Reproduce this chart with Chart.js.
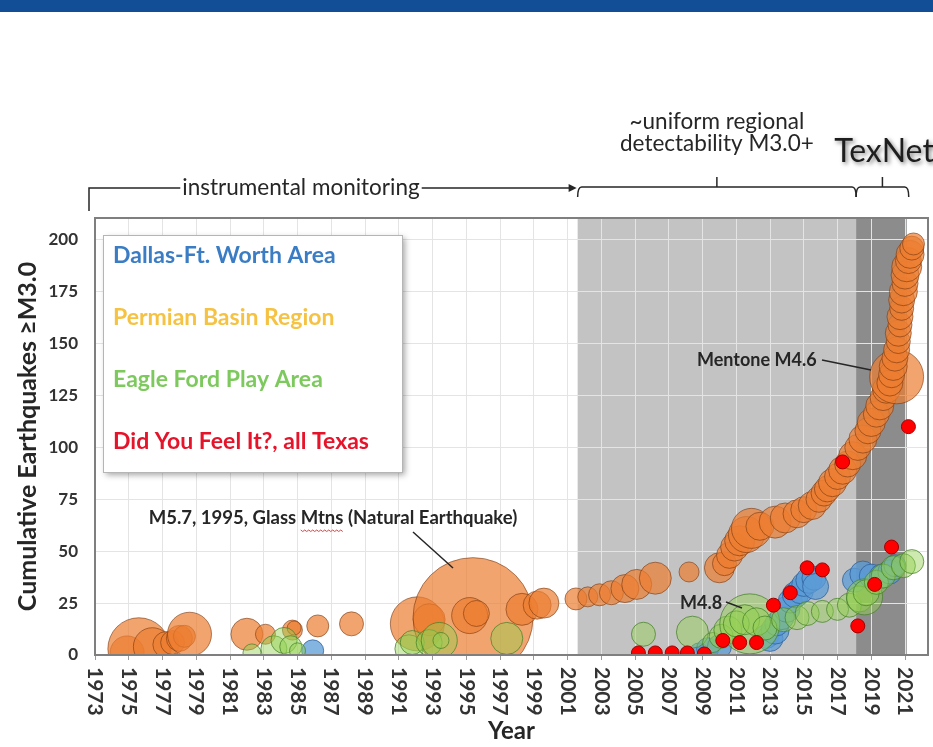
<!DOCTYPE html>
<html>
<head>
<meta charset="utf-8">
<title>Cumulative Texas earthquakes</title>
<script src="https://cdn.jsdelivr.net/npm/chart.js@4.4.1/dist/chart.umd.min.js"></script>
<style>
  html, body { margin: 0; padding: 0; background: #fff; }
  #wrap { position: relative; width: 933px; height: 747px; }
  #bar { position: absolute; left: 0; top: 0; width: 933px; height: 12px; background: #114e96; }
  canvas { position: absolute; left: 0; top: 0; }
</style>
</head>
<body>
<div id="wrap">
  <canvas id="quakeChart" width="933" height="747"></canvas>
  <div id="bar"></div>
</div>
<script>
// [year, cumulative count, bubble size]
var dallasPoints = [
    [1985.9, 2, 11],
    [2008.8, 1, 10], [2009.3, 3, 11], [2010.0, 4, 12],
    [2012.8, 9, 12], [2013.0, 8, 13], [2013.3, 12, 14], [2013.4, 15, 12],
    [2013.7, 18, 12], [2014.0, 22, 13], [2014.2, 26, 12], [2014.5, 29, 13],
    [2014.8, 31, 13], [2015.0, 34, 12], [2015.3, 36, 13], [2015.6, 37, 12],
    [2015.7, 33, 13],
    [2018.0, 36, 12], [2018.5, 39, 13], [2019.0, 38, 12], [2019.6, 38, 12],
    [2020.1, 40, 12], [2020.4, 43, 11]
];

var permianPoints = [
    [1974.9, 1, 17], [1975.6, 3, 31], [1976.4, 4, 19], [1977.2, 5, 13],
    [1977.6, 6, 12], [1978.0, 8, 13], [1978.3, 9, 11], [1978.6, 10, 22],
    [1982.0, 10, 16], [1983.1, 10, 10], [1984.7, 12, 10], [1984.8, 13, 7],
    [1986.2, 14, 11], [1988.2, 15, 12],
    [1992.1, 15, 27], [1992.8, 17, 16], [1995.4, 18, 60], [1995.2, 19, 18],
    [1995.6, 20, 13], [1998.3, 22, 16], [1999.2, 24, 14], [1999.6, 25, 15],
    [2001.5, 27, 11], [2002.2, 28, 10], [2002.9, 29, 11], [2003.6, 30, 12],
    [2004.4, 32, 14], [2005.1, 34, 15], [2006.2, 37, 16], [2008.2, 40, 10],
    [2010.0, 42, 15], [2010.3, 44, 12], [2010.6, 48, 13], [2010.9, 52, 14],
    [2011.2, 55, 15], [2011.6, 58, 18], [2011.9, 61, 20], [2012.4, 62, 14],
    [2013.3, 64, 16], [2013.9, 66, 15], [2014.6, 68, 14], [2015.0, 70, 13],
    [2015.5, 72, 14], [2015.9, 75, 13], [2016.2, 78, 13], [2016.4, 80, 13],
    [2016.7, 83, 14], [2017.0, 86, 13], [2017.3, 89, 14], [2017.6, 92, 13],
    [2017.9, 96, 14], [2018.2, 100, 13], [2018.5, 104, 14], [2018.8, 108, 13],
    [2019.0, 112, 14], [2019.3, 116, 13], [2019.5, 120, 14], [2019.7, 124, 13],
    [2019.9, 128, 14], [2020.5, 134, 27], [2020.1, 131, 13], [2020.2, 135, 13],
    [2020.3, 139, 14], [2020.4, 143, 13], [2020.5, 147, 13], [2020.6, 151, 12],
    [2020.6, 155, 13], [2020.7, 159, 12], [2020.7, 163, 13], [2020.8, 167, 12],
    [2020.8, 171, 13], [2020.9, 175, 14], [2021.0, 179, 13], [2021.0, 183, 14],
    [2021.1, 187, 15], [2021.2, 190, 13], [2021.3, 193, 14], [2021.4, 196, 12],
    [2021.5, 198, 11]
];

var eagleFordPoints = [
    [1982.3, 1, 9], [1983.6, 3, 13], [1984.2, 7, 13], [1984.6, 4, 11], [1985.0, 2, 8],
    [1991.6, 3, 14], [1991.8, 6, 12], [1992.8, 6, 13], [1993.4, 7, 18], [1993.5, 7, 8],
    [1997.4, 8, 16],
    [2005.5, 10, 12], [2008.4, 11, 16], [2009.6, 6, 10], [2010.1, 9, 12],
    [2010.5, 12, 14], [2011.8, 15, 30], [2011.0, 15, 13], [2011.5, 17, 15],
    [2012.2, 16, 14], [2012.7, 13, 12],
    [2013.8, 17, 12], [2014.6, 18, 12], [2015.2, 20, 12], [2016.1, 21, 11],
    [2017.0, 22, 11], [2017.7, 24, 12], [2018.3, 27, 13], [2018.6, 28, 18],
    [2018.7, 30, 13], [2019.3, 35, 12], [2019.7, 38, 12], [2020.3, 42, 12],
    [2020.9, 43, 12], [2021.4, 45, 12]
];

var dyfiPoints = [
    [2005.2, 1, 7], [2006.2, 1, 7], [2007.2, 1, 7], [2008.1, 1, 7], [2009.1, 0.5, 7],
    [2010.2, 7, 7], [2011.2, 6, 7], [2012.2, 6, 7], [2013.2, 24, 7], [2014.2, 30, 7],
    [2015.2, 42, 7], [2016.1, 41, 7], [2017.3, 93, 7], [2018.2, 14, 7],
    [2019.2, 34, 7], [2020.2, 52, 7], [2021.2, 110, 7]
];

var seriesNames = ['Dallas-Ft. Worth Area', 'Permian Basin Region', 'Eagle Ford Play Area', 'Did You Feel It?, all Texas'];
var tickYears = [1973, 1975, 1977, 1979, 1981, 1983, 1985, 1987, 1989, 1991, 1993, 1995, 1997,
    1999, 2001, 2003, 2005, 2007, 2009, 2011, 2013, 2015, 2017, 2019, 2021];
var countTicks = [0, 25, 50, 75, 100, 125, 150, 175, 200];
// start of uniform detectability, start of TexNet, end of record
var eraYears = [2001.6, 2018.1, 2021.1];

var FONT = 'Lato, "Open Sans", sans-serif';

function toBubbles(list) {
    return list.map(function (p) { return { x: p[0], y: p[1], r: p[2] }; });
}

function drawBrace(ctx, x1, x2, y) {
    var mid = (x1 + x2) / 2;
    ctx.beginPath();
    ctx.moveTo(x1, y + 10);
    ctx.quadraticCurveTo(x1, y, x1 + 4, y);
    ctx.lineTo(x2 - 4, y);
    ctx.quadraticCurveTo(x2, y, x2, y + 10);
    ctx.moveTo(mid, y);
    ctx.lineTo(mid, y - 10);
    ctx.stroke();
}

var decorations = {
    id: 'decorations',
    beforeDraw: function (chart) {
        var ctx = chart.ctx, a = chart.chartArea, xs = chart.scales.x;
        var p0 = xs.getPixelForValue(eraYears[0]);
        var p1 = xs.getPixelForValue(eraYears[1]);
        var p2 = xs.getPixelForValue(eraYears[2]);
        ctx.save();
        ctx.fillStyle = '#c3c3c3';
        ctx.fillRect(p0, a.top, p1 - p0, a.bottom - a.top);
        ctx.fillStyle = '#8c8c8c';
        ctx.fillRect(p1, a.top, p2 - p1, a.bottom - a.top);
        ctx.restore();
    },
    afterDraw: function (chart) {
        var ctx = chart.ctx, a = chart.chartArea, xs = chart.scales.x;
        ctx.save();

        // plot frame
        ctx.strokeStyle = '#7f7f7f';
        ctx.lineWidth = 2;
        ctx.strokeRect(a.left, a.top, a.right - a.left, a.bottom - a.top);

        // year labels, turned clockwise
        ctx.fillStyle = '#333';
        ctx.font = 'bold 21px ' + FONT;
        ctx.textAlign = 'left';
        ctx.textBaseline = 'middle';
        tickYears.forEach(function (yr) {
            ctx.save();
            ctx.translate(xs.getPixelForValue(yr), a.bottom + 12);
            ctx.rotate(Math.PI / 2);
            ctx.fillText(String(yr), 0, 0);
            ctx.restore();
        });

        // legend box
        ctx.save();
        ctx.shadowColor = 'rgba(0,0,0,0.35)';
        ctx.shadowBlur = 6;
        ctx.shadowOffsetX = 3;
        ctx.shadowOffsetY = 3;
        ctx.fillStyle = '#fff';
        ctx.fillRect(a.left + 8, a.top + 17, 299, 237);
        ctx.restore();
        ctx.strokeStyle = '#b5b5b5';
        ctx.lineWidth = 1;
        ctx.strokeRect(a.left + 8.5, a.top + 17.5, 299, 237);
        var legendColors = ['#3b7dc4', '#f5c243', '#7dc95e', '#e5142b'];
        ctx.font = 'bold 23px ' + FONT;
        seriesNames.forEach(function (name, i) {
            ctx.fillStyle = legendColors[i];
            ctx.fillText(name, a.left + 18, a.top + 38 + i * 62);
        });

        // callouts
        ctx.fillStyle = '#262626';
        ctx.strokeStyle = '#262626';
        ctx.lineWidth = 1.5;
        ctx.font = 'bold 18.5px ' + FONT;
        var glass = 'M5.7, 1995, Glass Mtns (Natural Earthquake)';
        var gw = ctx.measureText(glass).width;
        var gx = 333 - gw / 2;
        ctx.fillText(glass, gx, 518);
        // spell-check squiggle under "Mtns"
        var sx = gx + ctx.measureText('M5.7, 1995, Glass ').width;
        var sw = ctx.measureText('Mtns').width;
        ctx.save();
        ctx.strokeStyle = '#e04040';
        ctx.lineWidth = 1;
        ctx.beginPath();
        for (var k = 0; k <= sw; k += 2) {
            var yy = 530 + ((k / 2) % 2 === 0 ? 0 : 1.5);
            if (k === 0) ctx.moveTo(sx + k, yy); else ctx.lineTo(sx + k, yy);
        }
        ctx.stroke();
        ctx.restore();
        ctx.beginPath();
        ctx.moveTo(413, 532);
        ctx.lineTo(453, 568);
        ctx.stroke();

        ctx.font = 'bold 18px ' + FONT;
        ctx.fillText('Mentone M4.6', 697, 360);
        ctx.beginPath();
        ctx.moveTo(822, 360);
        ctx.lineTo(871, 370);
        ctx.stroke();

        ctx.fillText('M4.8', 680, 603);
        ctx.beginPath();
        ctx.moveTo(726, 602);
        ctx.lineTo(742, 608);
        ctx.stroke();

        // monitoring periods above the plot
        var p0 = xs.getPixelForValue(eraYears[0]);
        var p1 = xs.getPixelForValue(eraYears[1]);
        var p2 = xs.getPixelForValue(eraYears[2]) + 2;
        ctx.font = '22.5px ' + FONT;
        ctx.fillStyle = '#262626';
        ctx.strokeStyle = '#262626';
        ctx.lineWidth = 1.5;
        var label = 'instrumental monitoring';
        var lw = ctx.measureText(label).width;
        var lx = 301 - lw / 2;
        ctx.fillText(label, lx, 188);
        ctx.beginPath();
        ctx.moveTo(a.left - 6, 211);
        ctx.lineTo(a.left - 6, 188);
        ctx.lineTo(lx - 2, 188);
        ctx.moveTo(lx + lw + 2, 188);
        ctx.lineTo(p0 - 4, 188);
        ctx.stroke();
        ctx.beginPath();
        ctx.moveTo(p0 - 1, 188);
        ctx.lineTo(p0 - 9, 184);
        ctx.lineTo(p0 - 9, 192);
        ctx.closePath();
        ctx.fill();

        drawBrace(ctx, p0, p1, 187);
        drawBrace(ctx, p1, p2, 187);

        ctx.textAlign = 'center';
        ctx.fillText('~uniform regional', (p0 + p1) / 2, 122);
        ctx.fillText('detectability M3.0+', (p0 + p1) / 2, 144);

        ctx.save();
        ctx.font = '32px ' + FONT;
        ctx.shadowColor = 'rgba(0,0,0,0.5)';
        ctx.shadowBlur = 4;
        ctx.shadowOffsetX = 2;
        ctx.shadowOffsetY = 2;
        ctx.fillStyle = '#1e1e1e';
        ctx.fillText('TexNet', 884, 152);
        ctx.restore();

        ctx.restore();
    }
};

var ctx = document.getElementById('quakeChart').getContext('2d');
var chart = new Chart(ctx, {
    type: 'bubble',
    data: {
        datasets: [
            {
                label: seriesNames[3],
                data: toBubbles(dyfiPoints),
                backgroundColor: '#ff0000',
                borderColor: '#a00000',
                borderWidth: 1,
                clip: 0
            },
            {
                label: seriesNames[2],
                data: toBubbles(eagleFordPoints),
                backgroundColor: 'rgba(146, 208, 80, 0.45)',
                borderColor: 'rgba(70, 130, 40, 0.75)',
                borderWidth: 1,
                clip: 0
            },
            {
                label: seriesNames[0],
                data: toBubbles(dallasPoints),
                backgroundColor: 'rgba(91, 155, 213, 0.75)',
                borderColor: 'rgba(40, 90, 150, 0.7)',
                borderWidth: 1,
                clip: 0
            },
            {
                label: seriesNames[1],
                data: toBubbles(permianPoints),
                backgroundColor: 'rgba(237, 125, 49, 0.7)',
                borderColor: 'rgba(120, 55, 15, 0.6)',
                borderWidth: 1,
                clip: 0
            }
        ]
    },
    options: {
        responsive: false,
        animation: false,
        devicePixelRatio: 1,
        layout: { autoPadding: false, padding: { top: 218, right: 5, left: 0, bottom: 0 } },
        plugins: {
            legend: { display: false },
            tooltip: { enabled: false }
        },
        scales: {
            x: {
                type: 'linear',
                min: 1973,
                max: 2022.36,
                afterBuildTicks: function (scale) {
                    scale.ticks = tickYears.map(function (v) { return { value: v }; });
                },
                afterFit: function (scale) { scale.height = 92; },
                ticks: { display: false },
                grid: { color: '#e4e4e4', tickLength: 5, tickColor: '#9a9a9a' },
                border: { color: '#808080', width: 2 },
                title: {
                    display: true,
                    text: 'Year',
                    color: '#262626',
                    font: { family: FONT, size: 24, weight: 'bold' },
                    padding: { top: 0, bottom: 1 }
                }
            },
            y: {
                min: 0,
                max: 210.5,
                afterBuildTicks: function (scale) {
                    scale.ticks = countTicks.map(function (v) { return { value: v }; });
                },
                afterFit: function (scale) { scale.width = 95; },
                ticks: {
                    padding: 17,
                    color: '#333',
                    font: { family: FONT, size: 17, weight: 'bold' }
                },
                grid: { color: '#e4e4e4', drawTicks: false },
                border: { color: '#808080', width: 2 },
                title: {
                    display: true,
                    text: 'Cumulative Earthquakes \u2265M3.0',
                    color: '#262626',
                    font: { family: FONT, size: 25, weight: 'bold' },
                    padding: { top: 13, bottom: 4 }
                }
            }
        }
    },
    plugins: [decorations]
});
</script>
</body>
</html>
